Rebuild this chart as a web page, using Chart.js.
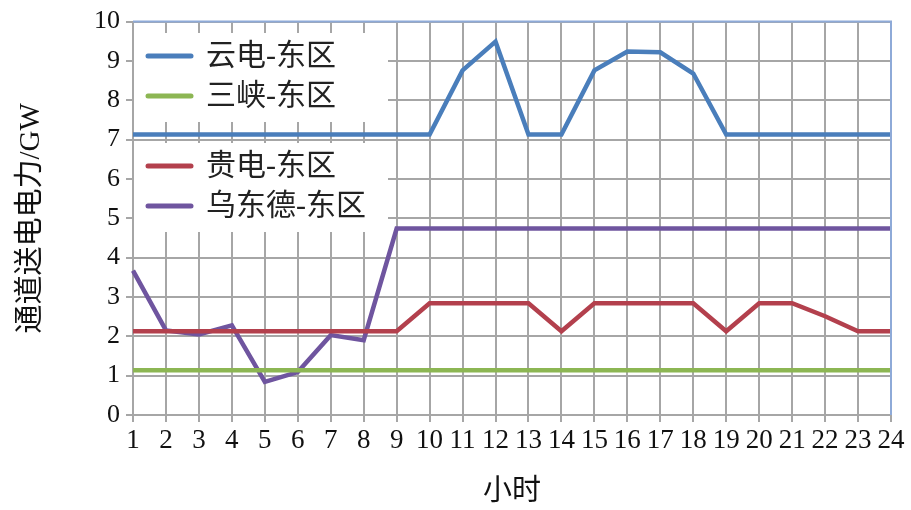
<!DOCTYPE html>
<html lang="zh">
<head>
<meta charset="UTF-8">
<title>通道送电电力</title>
<script src="https://cdn.jsdelivr.net/npm/chart.js"></script>
<style>
  html, body { margin: 0; padding: 0; background: #fff; }
  #wrap { width: 911px; height: 510px; }
</style>
</head>
<body>
<div id="wrap"><canvas id="c"></canvas></div>
<script>
// 小时
const hours = ['1','2','3','4','5','6','7','8','9','10','11','12','13','14','15','16','17','18','19','20','21','22','23','24'];

// 各通道送电电力 (GW)
const yundian   = [7.13,7.13,7.13,7.13,7.13,7.13,7.13,7.13,7.13,7.13,8.76,9.49,7.13,7.13,8.76,9.24,9.22,8.68,7.13,7.13,7.13,7.13,7.13,7.13];
const sanxia    = [1.14,1.14,1.14,1.14,1.14,1.14,1.14,1.14,1.14,1.14,1.14,1.14,1.14,1.14,1.14,1.14,1.14,1.14,1.14,1.14,1.14,1.14,1.14,1.14];
const guidian   = [2.13,2.13,2.13,2.13,2.13,2.13,2.13,2.13,2.13,2.84,2.84,2.84,2.84,2.13,2.84,2.84,2.84,2.84,2.13,2.84,2.84,2.51,2.13,2.13];
const wudongde  = [3.67,2.15,2.05,2.28,0.84,1.09,2.03,1.90,4.74,4.74,4.74,4.74,4.74,4.74,4.74,4.74,4.74,4.74,4.74,4.74,4.74,4.74,4.74,4.74];

const names  = ['云电-东区', '三峡-东区', '贵电-东区', '乌东德-东区'];
const colors = ['#4a7ebb', '#8cb653', '#b3404d', '#6f559f'];

const serif = "'Liberation Serif', 'Noto Sans CJK SC', serif";

// 图例：两个白底框，分上下两组
const legendBoxes = {
  id: 'legendBoxes',
  beforeDatasetsDraw(chart) {
    const ctx = chart.ctx;
    const left = chart.chartArea.left + 1;
    const groups = [
      { top: 33, h: 89, items: [0, 1] },
      { top: 143, h: 89, items: [2, 3] }
    ];
    ctx.save();
    groups.forEach(g => {
      ctx.fillStyle = '#fff';
      ctx.fillRect(left, g.top, 254, g.h);
      g.items.forEach((k, j) => {
        const y = g.top + 23 + j * 40;
        ctx.strokeStyle = colors[k];
        ctx.lineWidth = 5;
        ctx.lineCap = 'round';
        ctx.beginPath();
        ctx.moveTo(148, y);
        ctx.lineTo(191, y);
        ctx.stroke();
        ctx.fillStyle = '#222';
        ctx.font = '30px ' + serif;
        ctx.textBaseline = 'middle';
        ctx.fillText(names[k], 206, y + 1);
      });
    });
    ctx.restore();
  }
};

// 上、右边框
const frame = {
  id: 'frame',
  afterDatasetsDraw(chart) {
    const { left, right, top, bottom } = chart.chartArea;
    const ctx = chart.ctx;
    ctx.save();
    ctx.strokeStyle = '#8eaad8';
    ctx.lineWidth = 2;
    ctx.beginPath();
    ctx.moveTo(left, top);
    ctx.lineTo(right, top);
    ctx.lineTo(right, bottom);
    ctx.stroke();
    ctx.restore();
  }
};

const series = [yundian, sanxia, guidian, wudongde];

new Chart(document.getElementById('c'), {
  type: 'line',
  data: {
    labels: hours,
    datasets: series.map((d, i) => ({
      label: names[i],
      data: d,
      borderColor: colors[i],
      backgroundColor: colors[i],
      borderWidth: 4.5,
      pointRadius: 0,
      tension: 0,
      fill: false
    }))
  },
  options: {
    responsive: true,
    maintainAspectRatio: false,
    animation: false,
    layout: { padding: { top: 20, right: 20, left: 0, bottom: 0 } },
    plugins: {
      legend: { display: false },
      tooltip: { enabled: false }
    },
    scales: {
      x: {
        offset: false,
        grid: { color: '#a6a6a6', lineWidth: 2, tickLength: 7 },
        border: { color: '#a6a6a6', width: 2 },
        ticks: {
          autoSkip: false,
          maxRotation: 0,
          color: '#111',
          font: { family: serif, size: 27 },
          padding: 3
        },
        title: {
          display: true,
          text: '小时',
          color: '#111',
          font: { family: serif, size: 29 },
          padding: { top: 4, bottom: 0 }
        },
        afterFit(s) { s.height = 95; }
      },
      y: {
        min: 0,
        max: 10,
        ticks: {
          stepSize: 1,
          color: '#111',
          font: { family: serif, size: 26 },
          padding: 6
        },
        grid: { color: '#a6a6a6', lineWidth: 2, tickLength: 7 },
        border: { color: '#a6a6a6', width: 2 },
        title: {
          display: true,
          text: '通道送电电力/GW',
          color: '#111',
          font: { family: serif, size: 29 },
          padding: { top: 14, bottom: 0 }
        },
        afterFit(s) { s.width = 133; }
      }
    }
  },
  plugins: [legendBoxes, frame]
});
</script>
</body>
</html>
